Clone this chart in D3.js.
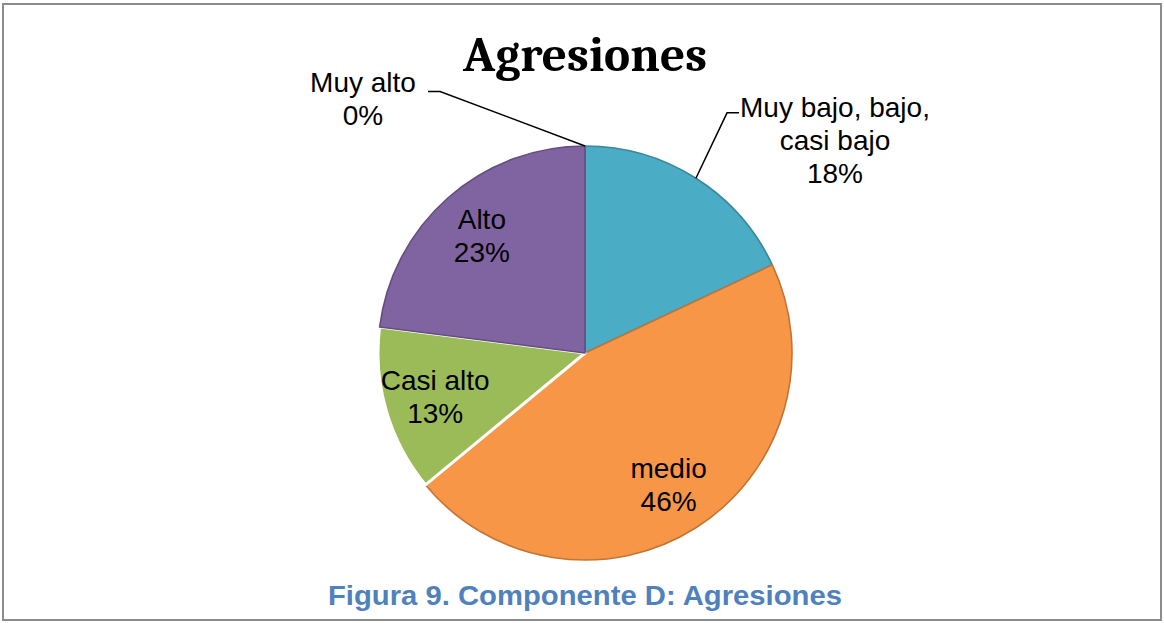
<!DOCTYPE html>
<html>
<head>
<meta charset="utf-8">
<script src="https://cdn.jsdelivr.net/npm/d3@7"></script>
<style>
  body { margin: 0; background: #fff; }
  svg { display: block; }
</style>
</head>
<body>
<div id="chart"></div>
<script>
/* chart data */
var categories = ["Muy bajo, bajo, casi bajo", "medio", "Casi alto", "Alto", "Muy alto"];
var labelLines = [["Muy bajo, bajo,", "casi bajo"], ["medio"], ["Casi alto"], ["Alto"], ["Muy alto"]];
var values = [18, 46, 13, 23, 0];
var colors = ["#4BACC6", "#F79646", "#9BBB59", "#8064A2", "#C0504D"];
var title = "Agresiones";
var caption = "Figura 9. Componente D: Agresiones";

var width = 1164, height = 623;
var cx = 585, cy = 353, radius = 207;
var fontSize = 28, lineH = 33;
var sans = "'Liberation Sans', Arial, sans-serif";

var svg = d3.select("#chart")
            .append("svg")
            .attr("width", width)
            .attr("height", height);

/* outer frame */
svg.append("rect")
    .attr("x", 3).attr("y", 4)
    .attr("width", width - 6).attr("height", height - 7)
    .attr("fill", "none")
    .attr("stroke", "#8c8c8c")
    .attr("stroke-width", 2);

/* title */
svg.append("text")
    .attr("x", cx)
    .attr("y", 71)
    .attr("text-anchor", "middle")
    .attr("font-family", "Cambria, 'Liberation Serif', serif")
    .attr("font-weight", "bold")
    .attr("font-size", 48)
    .attr("textLength", 244)
    .attr("lengthAdjust", "spacingAndGlyphs")
    .text(title);

/* caption */
svg.append("text")
    .attr("x", cx)
    .attr("y", 605)
    .attr("text-anchor", "middle")
    .attr("font-family", sans)
    .attr("font-weight", "bold")
    .attr("font-size", 28)
    .attr("textLength", 514)
    .attr("lengthAdjust", "spacingAndGlyphs")
    .attr("fill", "#4F81BD")
    .text(caption);

var pie = d3.pie().sort(null).value(function(d) { return d; });
var arcs = pie(values);

var arc = d3.arc().innerRadius(0).outerRadius(radius);
var labelArc = d3.arc().innerRadius(156).outerRadius(156);

var chart = svg.append("g")
                .attr("transform", "translate(" + cx + "," + cy + ")");

/* slices; "Casi alto" is outlined in white like the original */
chart.selectAll("path.slice")
    .data(arcs.filter(function(d) { return d.value > 0; }))
    .enter().append("path")
    .attr("class", "slice")
    .attr("fill", function(d) { return colors[d.index]; })
    .attr("stroke", function(d) {
        return categories[d.index] === "Casi alto" ? "#fff" : d3.color(colors[d.index]).darker(0.7);
    })
    .attr("stroke-width", function(d) { return categories[d.index] === "Casi alto" ? 3 : 1.6; })
    .attr("stroke-linejoin", "round")
    .attr("d", arc);

/* labels inside the pie */
var inside = arcs.filter(function(d) { return d.index >= 1 && d.index <= 3; });
inside.forEach(function(d) {
    var c = labelArc.centroid(d);
    var lines = labelLines[d.index].concat([d.value + "%"]);
    var t = chart.append("text")
                .attr("text-anchor", "middle")
                .attr("font-family", sans)
                .attr("font-size", fontSize)
                .attr("fill", "#000");
    var y0 = c[1] - (lines.length - 1) * lineH / 2 + 10;
    lines.forEach(function(l, i) {
        t.append("tspan").attr("x", c[0]).attr("y", y0 + i * lineH).text(l);
    });
});

/* outside labels with leader lines (polar position of the elbow) */
var outside = {
    0: { elbowAngle: 30.6, elbowR: 279, dir: 1, textX: 250, textY: -236 },
    4: { elbowAngle: -29, elbowR: 299, dir: -1, textX: -222, textY: -261 }
};
arcs.filter(function(d) { return outside[d.index]; }).forEach(function(d) {
    var o = outside[d.index];
    var a = (d.startAngle + d.endAngle) / 2;
    var p0 = [Math.sin(a) * radius, -Math.cos(a) * radius];
    var ea = o.elbowAngle * Math.PI / 180;
    var p1 = [Math.sin(ea) * o.elbowR, -Math.cos(ea) * o.elbowR];
    var p2 = [p1[0] + o.dir * 12, p1[1]];
    chart.append("path")
        .attr("d", d3.line()([p0, p1, p2]))
        .attr("fill", "none")
        .attr("stroke", "#000")
        .attr("stroke-width", 1.5);
    var lines = labelLines[d.index].concat([d.value + "%"]);
    var t = chart.append("text")
                .attr("text-anchor", "middle")
                .attr("font-family", sans)
                .attr("font-size", fontSize)
                .attr("fill", "#000");
    lines.forEach(function(l, i) {
        t.append("tspan").attr("x", o.textX).attr("y", o.textY + i * lineH).text(l);
    });
});
</script>
</body>
</html>
